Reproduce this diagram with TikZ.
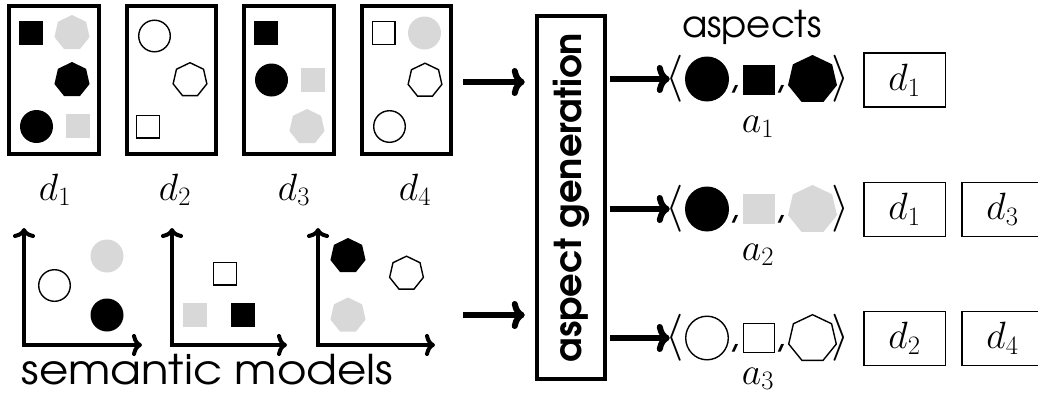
\RequirePackage{fix-cm}
\documentclass[tikz,border=0pt]{standalone}
\usepackage{fontspec}
\usepackage{graphicx}
\usetikzlibrary{shapes.geometric,arrows.meta}
\newfontfamily\gothic{texgyreadventor}[Extension=.otf,UprightFont=*-regular,BoldFont=*-bold]
\definecolor{shade}{RGB}{216,216,216}
% heptagon with a vertex on top: style, centre x, centre y, x radius, y radius
\newcommand\heptagonat[5]{\path[#1] plot[samples at={0,...,6}] ({#2+#4*cos(90+\x*360/7)},{#3-#5*sin(90+\x*360/7)}) -- cycle;}

\begin{document}
\begin{tikzpicture}[x=1pt,y=-1pt,
  doc/.style={draw,line width=4.3pt,minimum width=89.5pt,minimum height=148pt,inner sep=0pt},
  sqr/.style={rectangle,minimum size=24pt,inner sep=0pt},
  crc/.style={circle,minimum size=33pt,inner sep=0pt},
  blk/.style={fill=black},
  gry/.style={fill=shade},
  wht/.style={draw,line width=1.4pt,fill=white},
  osq/.style={sqr,wht,minimum size=22.6pt},
  oci/.style={crc,wht,minimum size=31.6pt},
  outline/.style={draw,line width=1.4pt,fill=white},
  mlbl/.style={font=\fontsize{38}{38}\selectfont,inner sep=0pt},
  ang/.style={font=\fontsize{47}{47}\selectfont,inner sep=0pt},
  comma/.style={font=\gothic\fontsize{40}{40}\selectfont,inner sep=0pt},
  aell/.style={ellipse,minimum width=44pt,minimum height=45pt,inner sep=0pt},
  asq/.style={rectangle,minimum width=32pt,minimum height=30pt,inner sep=0pt},
  rbox/.style={draw,line width=1.5pt,minimum width=81.5pt,minimum height=54pt,inner sep=0pt,font=\fontsize{38}{38}\selectfont},
  arr/.style={line width=6pt,-{Computer Modern Rightarrow[length=13pt,width=28pt]}},
  axis/.style={line width=4pt,line join=miter,{Computer Modern Rightarrow[length=10pt,width=22pt]}-{Computer Modern Rightarrow[length=10pt,width=22pt]}}
]
\useasboundingbox (0,0) rectangle (1038,394);

% documents
\node[doc] (doc1) at (54,80) {};
\node[doc] (doc2) at (171.5,80) {};
\node[doc] (doc3) at (289,80) {};
\node[doc] (doc4) at (406.5,80) {};
\node[mlbl,anchor=base] (ld1) at (55,200) {$d_1$};
\node[mlbl,anchor=base] (ld2) at (175,200) {$d_2$};
\node[mlbl,anchor=base] (ld3) at (294,200) {$d_3$};
\node[mlbl,anchor=base] (ld4) at (415,200) {$d_4$};

% contents of d1
\node[sqr,blk] (d1sq) at (30.5,33) {};
\heptagonat{fill=shade}{72}{33}{18}{18}
\heptagonat{fill=black}{72}{80}{18}{18}
\node[crc,blk] (d1ci) at (36.5,126.5) {};
\node[sqr,gry] (d1gs) at (78,126) {};
% contents of d2
\node[oci] (d2ci) at (154.5,36) {};
\heptagonat{outline}{190}{80}{17.3}{17.3}
\node[osq] (d2sq) at (148,126.5) {};
% contents of d3
\node[sqr,blk] (d3sq) at (266,33) {};
\node[crc,blk] (d3ci) at (271.5,80) {};
\node[sqr,gry] (d3gs) at (313,80) {};
\heptagonat{fill=shade}{307}{127}{18}{18}
% contents of d4
\node[osq] (d4sq) at (383.5,33) {};
\node[crc,gry] (d4gc) at (424.5,33) {};
\heptagonat{outline}{425}{80.5}{17.3}{17.3}
\node[oci] (d4ci) at (389.5,126.5) {};

% semantic models
\coordinate (o1) at (24,345); \coordinate (y1) at (24,228); \coordinate (x1) at (142,345);
\draw[axis] (y1) -- (o1) -- (x1);
\node[crc,gry] (p1a) at (107,256) {};
\node[oci] (p1b) at (54.5,285.5) {};
\node[crc,blk] (p1c) at (107,315) {};

\coordinate (o2) at (172,345); \coordinate (y2) at (172,228); \coordinate (x2) at (287,345);
\draw[axis] (y2) -- (o2) -- (x2);
\node[osq] (p2a) at (225,273.5) {};
\node[sqr,gry] (p2b) at (195,315) {};
\node[sqr,blk] (p2c) at (242.5,315) {};

\coordinate (o3) at (318,345); \coordinate (y3) at (318,228); \coordinate (x3) at (435,345);
\draw[axis] (y3) -- (o3) -- (x3);
\heptagonat{fill=black}{348}{256}{18}{18}
\heptagonat{outline}{406.5}{273.5}{17.3}{17.3}
\heptagonat{fill=shade}{348}{315.5}{18}{18}

\node[inner sep=0pt,anchor=base] (sem) at (207.5,384)
  {\scalebox{1.1}[1]{\gothic\fontsize{41}{41}\selectfont semantic models}};

% aspect generation
\node[draw,line width=4.5pt,minimum width=68pt,minimum height=363pt,inner sep=0pt] (gen) at (571,197.5)
  {\rotatebox{90}{\gothic\bfseries\fontsize{37}{37}\selectfont aspect generation}};
\coordinate (in1) at (463,82);
\coordinate (in2) at (463,315);
\draw[arr,shorten >=10pt] (in1) -- (in1 -| gen.west);
\draw[arr,shorten >=10pt] (in2) -- (in2 -| gen.west);

\node[inner sep=0pt,anchor=base] (asp) at (752,37)
  {\gothic\fontsize{37}{37}\selectfont aspects};

% aspect a1
\node[ang] (lb1) at (674.7,79) {$\langle$};
\node[aell,blk] (e1) at (707,79) {};
\node[comma] (c1a) at (734.5,89) {,};
\node[asq,blk] (s1) at (759,80) {};
\node[comma] (c1b) at (780,89) {,};
\heptagonat{fill=black}{812.5}{79.7}{25.1}{24.7}
\node[ang] (rb1) at (840.3,79) {$\rangle$};
\node[mlbl,anchor=base] (a1) at (758,132) {$a_1$};
\draw[arr,shorten <=3pt,shorten >=-4.4pt] (gen.east |- lb1) -- (lb1.west);

% aspect a2
\node[ang] (lb2) at (674.7,209) {$\langle$};
\node[aell,blk] (e2) at (707,209) {};
\node[comma] (c2a) at (734.5,219) {,};
\node[asq,gry] (s2) at (759,209) {};
\node[comma] (c2b) at (780,219) {,};
\heptagonat{fill=shade}{812.5}{209.7}{25.1}{24.7}
\node[ang] (rb2) at (840.3,209) {$\rangle$};
\node[mlbl,anchor=base] (a2) at (758,260) {$a_2$};
\draw[arr,shorten <=3pt,shorten >=-4.4pt] (gen.east |- lb2) -- (lb2.west);

% aspect a3
\node[ang] (lb3) at (674.7,338) {$\langle$};
\node[aell,wht,minimum width=42.6pt,minimum height=43.6pt] (e3) at (707,338) {};
\node[comma] (c3a) at (734.5,348) {,};
\node[asq,wht,minimum width=30.6pt,minimum height=28.6pt] (s3) at (759,338) {};
\node[comma] (c3b) at (780,348) {,};
\heptagonat{outline}{812.5}{338.7}{24.4}{24}
\node[ang] (rb3) at (840.3,338) {$\rangle$};
\node[mlbl,anchor=base] (a3) at (758,384) {$a_3$};
\draw[arr,shorten <=3pt,shorten >=-4.4pt] (gen.east |- lb3) -- (lb3.west);

% documents of each aspect
\node[rbox] (r1a) at (904.5,80) {$d_1$};
\node[rbox] (r2a) at (904.5,209.5) {$d_1$};
\node[rbox] (r2b) at (1002.5,209.5) {$d_3$};
\node[rbox] (r3a) at (904.5,338.5) {$d_2$};
\node[rbox] (r3b) at (1002.5,338.5) {$d_4$};
\end{tikzpicture}
\end{document}
